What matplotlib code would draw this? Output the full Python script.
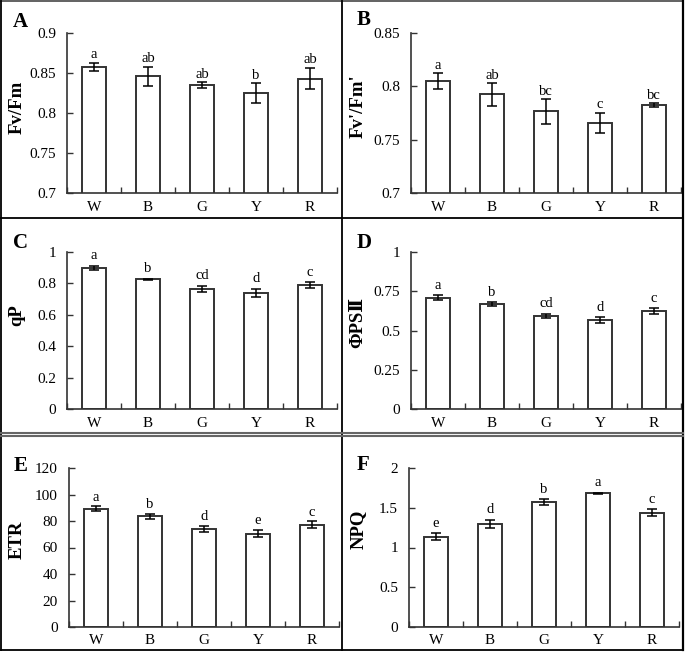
import matplotlib
matplotlib.use("Agg")
import matplotlib.pyplot as plt
from matplotlib.lines import Line2D
import numpy as np

plt.rcParams['font.family'] = ['Liberation Serif', 'DejaVu Serif']

# treatments (light colour)
groups = ['W', 'B', 'G', 'Y', 'R']

# panel A - Fv/Fm
fvfm = [0.858, 0.846, 0.835, 0.825, 0.843]
fvfm_err = [0.005, 0.012, 0.0035, 0.0125, 0.0135]
fvfm_sig = ['a', 'ab', 'ab', 'b', 'ab']

# panel B - Fv'/Fm'
fvfm2 = [0.805, 0.7925, 0.7765, 0.766, 0.7825]
fvfm2_err = [0.0075, 0.0107, 0.0115, 0.0093, 0.0017]
fvfm2_sig = ['a', 'ab', 'bc', 'c', 'bc']

# panel C - qP
qp = [0.900, 0.826, 0.764, 0.739, 0.790]
qp_err = [0.013, 0.003, 0.020, 0.028, 0.018]
qp_sig = ['a', 'b', 'cd', 'd', 'c']

# panel D - PSII yield
phi = [0.709, 0.667, 0.592, 0.567, 0.622]
phi_err = [0.015, 0.013, 0.015, 0.019, 0.020]
phi_sig = ['a', 'b', 'cd', 'd', 'c']

# panel E - ETR
etr = [89.4, 83.6, 74.0, 70.5, 77.3]
etr_err = [1.6, 1.8, 2.3, 2.5, 2.4]
etr_sig = ['a', 'b', 'd', 'e', 'c']

# panel F - NPQ
npq = [1.137, 1.301, 1.571, 1.680, 1.436]
npq_err = [0.040, 0.050, 0.034, 0.008, 0.042]
npq_sig = ['e', 'd', 'b', 'a', 'c']

W, H = 685, 654
fig = plt.figure(figsize=(W / 100, H / 100), dpi=100)
fig.patch.set_facecolor('white')

EDGE = '#333333'


def px_axes(left, top, right, bottom):
    return fig.add_axes([left / W, 1 - bottom / H, (right - left) / W, (bottom - top) / H])


def panel(ax, vals, errs, sig, ylim, yticks, gap, xpad=5.5):
    x = np.arange(len(groups))
    ax.bar(x, vals, width=0.43, color='white', edgecolor=EDGE, linewidth=1.4, zorder=2)
    ax.errorbar(x, vals, yerr=errs, fmt='none', ecolor='black', elinewidth=1.1,
                capsize=3.5, capthick=1.1, zorder=3)
    for xi, v, e, s in zip(x, vals, errs, sig):
        ax.annotate(s, (xi, v + e), xytext=(0, gap), textcoords='offset points',
                    ha='center', va='bottom', fontsize=10.5)
    ax.set_xlim(-0.5, len(groups) - 0.5)
    ax.set_ylim(*ylim)
    ax.set_yticks(yticks)
    ax.set_yticklabels(['%g' % t for t in yticks], fontsize=11)
    ax.set_xticks(x)
    ax.set_xticklabels(groups, fontsize=11)
    ax.set_xticks(np.arange(len(groups) + 1) - 0.5, minor=True)
    ax.tick_params(axis='x', which='major', length=0, pad=xpad)
    ax.tick_params(axis='x', which='minor', direction='in', length=4, width=1, color=EDGE)
    ax.tick_params(axis='y', direction='in', length=4, width=1, color=EDGE, pad=8)
    for s in ['top', 'right']:
        ax.spines[s].set_visible(False)
    for s in ['left', 'bottom']:
        ax.spines[s].set_color(EDGE)
        ax.spines[s].set_linewidth(1.2)
    ax.set_facecolor('none')


axA = px_axes(67, 33, 337, 193)
panel(axA, fvfm, fvfm_err, fvfm_sig, (0.7, 0.9), [0.7, 0.75, 0.8, 0.85, 0.9], 1.0)
axB = px_axes(411, 33, 681, 193)
panel(axB, fvfm2, fvfm2_err, fvfm2_sig, (0.7, 0.85), [0.7, 0.75, 0.8, 0.85], 1.0)
axC = px_axes(67, 252, 337, 409)
panel(axC, qp, qp_err, qp_sig, (0, 1), [0, 0.2, 0.4, 0.6, 0.8, 1], 2.5)
axD = px_axes(411, 252, 681, 409)
panel(axD, phi, phi_err, phi_sig, (0, 1), [0, 0.25, 0.5, 0.75, 1], 2.5)
axE = px_axes(69, 468, 339, 627)
panel(axE, etr, etr_err, etr_sig, (0, 120), [0, 20, 40, 60, 80, 100, 120], 2.0, xpad=5)
axF = px_axes(409, 468, 679, 627)
panel(axF, npq, npq_err, npq_sig, (0, 2), [0, 0.5, 1, 1.5, 2], 2.5, xpad=5)

# panel letters
for lab, (px, py) in zip('ABCDEF', [(20, 22), (364, 20), (21, 243), (364, 243), (21, 466), (363, 465)]):
    fig.text(px / W, 1 - py / H, lab, fontsize=15, fontweight='bold', ha='center', va='center')

# y axis titles
ylabs = ['Fv/Fm', "Fv'/Fm'", 'qP', 'ΦPSⅡ', 'ETR', 'NPQ']
for lab, (px, py) in zip(ylabs, [(17, 107), (358, 106), (17, 315), (358, 322), (17, 540), (358, 529)]):
    fig.text(px / W, 1 - py / H, lab, fontsize=13.5, fontweight='bold', rotation=90,
             ha='center', va='center')


# frame lines around / between panels
def hline(y, x0, x1, c='black', lw=1.3):
    fig.add_artist(Line2D([x0 / W, x1 / W], [1 - y / H, 1 - y / H], color=c, linewidth=lw))


def vline(x, y0, y1, c='black', lw=1.3):
    fig.add_artist(Line2D([x / W, x / W], [1 - y0 / H, 1 - y1 / H], color=c, linewidth=lw))


hline(1, 1, 683, c='#555555')
hline(649.5, 1, 683)
vline(1, 1, 649.5)
vline(683, 1, 649.5, lw=1.6)
vline(342, 1, 649.5)
hline(218, 1, 683)
hline(432.5, 1, 683, c='#666666', lw=1.5)
hline(435.5, 1, 683, c='#666666', lw=1.5)

fig.savefig('out.png', dpi=100, facecolor='white')
